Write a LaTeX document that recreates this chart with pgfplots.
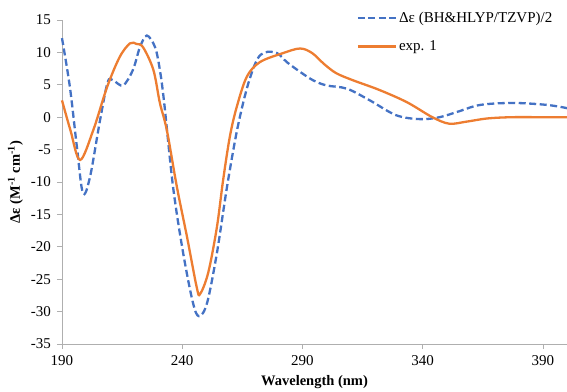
\documentclass[border=0pt]{standalone}
\usepackage{fontspec}
\setmainfont{Liberation Serif}
\usepackage{pgfplots}
\pgfplotsset{compat=1.18}
\definecolor{cblue}{RGB}{68,114,196}
\definecolor{corange}{RGB}{237,125,49}
\definecolor{axgray}{RGB}{175,175,175}
\begin{document}
\fontsize{15pt}{18pt}\selectfont
\begin{tikzpicture}
\useasboundingbox (-62pt,-47pt) rectangle (505pt,344pt);
\begin{axis}[
  scale only axis,
  width=505pt, height=324pt,
  xmin=190, xmax=400, ymin=-35, ymax=15,
  xtick={190,240,290,340,390},
  ytick={-35,-30,...,15},
  axis x line*=bottom, axis y line*=left,
  axis line style={axgray, line width=0.8pt},
  tick style={axgray, line width=0.8pt},
  tick align=outside,
  major tick length=5pt,
  /pgf/number format/assume math mode=true,
  ticklabel style={font=\fontsize{15pt}{18pt}\selectfont},
  xticklabel style={yshift=-1pt},
  yticklabel style={xshift=-1pt},
  xlabel={\textbf{Wavelength (nm)}},
  ylabel={\textbf{Δε (M\textsuperscript{-1} cm\textsuperscript{-1})}},
  xlabel style={at={(axis description cs:0.5,-0.118)}, anchor=center},
  ylabel style={at={(axis description cs:-0.092,0.5)}, anchor=center},
  label style={font=\fontsize{14.5pt}{17pt}\selectfont},
  legend style={draw=none, fill=none, at={(axis cs:312.5,16.6)}, anchor=north west,
    font=\fontsize{15pt}{18pt}\selectfont, row sep=12pt, inner sep=0pt},
  legend cell align=left,
  legend image code/.code={\draw[#1] (0pt,0pt) -- (38pt,0pt);},
  clip=false,
]
\addplot[cblue, line width=2.3pt, dash pattern=on 7pt off 3.5pt, smooth, tension=0.55] coordinates {
(190,12.2)(193.3,4.6)(196.2,-4.6)(198.7,-11.7)(201.6,-9.3)(205.8,-0.5)(209,5.4)(211.2,5.7)(215.4,4.9)(219.5,7.3)(222.4,10.8)(225.3,12.6)(228.7,10.8)(230.7,7.3)(232.5,2.2)(236.2,-10.8)(240.4,-21)(244.5,-28.7)(247,-30.7)(250.3,-28.7)(254.4,-21)(258.6,-10.8)(262.8,-2)(267,4.6)(271,8.8)(274.4,10)(279.4,9.9)(283.5,8.5)(289,7)(294.4,5.7)(300,4.9)(308.5,4.4)(318,2.6)(329,0.3)(339,-0.3)(347,0)(355,0.9)(364,1.9)(377.5,2.2)(391.6,1.9)(400,1.4)
};
\addlegendentry{Δε (BH\&HLYP/TZVP)/2}
\addplot[corange, line width=2.3pt, smooth, tension=0.55] coordinates {
(190,2.6)(193.5,-2)(197.5,-6.6)(203,-2)(208.7,4.6)(214,9.3)(218.3,11.4)(221,11.3)(223.7,10.8)(228,7.3)(230.7,2.2)(233.6,-2)(237.8,-10.8)(242,-18.5)(246,-26.2)(247.4,-27.3)(250.8,-24)(254.4,-17)(257,-9.7)(259.8,-3)(262.6,1.5)(266.8,6.2)(272.3,8.5)(282,9.9)(289,10.6)(294,9.9)(299,8.2)(304,6.8)(311,5.7)(322,4.2)(333.5,2.3)(344,0)(351,-1)(358,-0.7)(366.7,-0.2)(377,0)(390,0)(400,0)
};
\addlegendentry{exp. 1}
\end{axis}
\end{tikzpicture}
\end{document}
